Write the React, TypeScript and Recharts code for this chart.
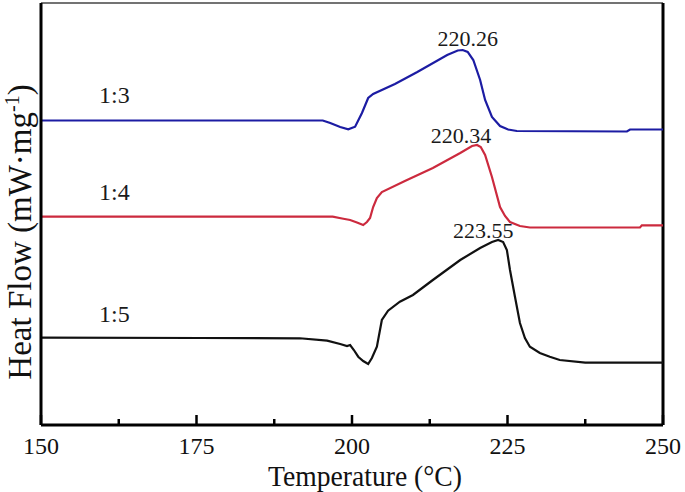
import React from 'react';
import { LineChart, Line, XAxis, YAxis, ReferenceLine, ReferenceDot } from 'recharts';

const SERIF = '"Liberation Serif", "Times New Roman", serif';

// Temperature (°C) and relative heat flow (arbitrary units, curves offset vertically)
const tempRatio13 = [150, 195.3, 196.5, 198.1, 199.4, 200.5, 201.6, 202.6, 203.4, 206.9, 210.5, 215.3, 217.0, 217.8, 218.6, 219.5, 220.6, 221.4, 222.5, 223.8, 225.1, 226.5, 244.2, 244.7, 250];
const flowRatio13 = [72.16, 72.16, 71.56, 70.62, 70.07, 70.69, 73.93, 77.49, 78.44, 80.81, 83.65, 87.68, 88.74, 88.86, 88.39, 86.49, 81.75, 77.01, 72.99, 70.85, 70.02, 69.67, 69.55, 70.02, 70.02];

const tempRatio14 = [150, 196.9, 198.4, 199.7, 200.8, 201.8, 202.4, 202.9, 203.4, 204.0, 204.8, 208.5, 213.0, 217.4, 219.3, 220.1, 220.7, 221.4, 222.5, 223.8, 224.6, 225.4, 227.0, 228.6, 246.3, 246.6, 250];
const flowRatio14 = [49.36, 49.36, 48.93, 48.58, 47.99, 47.39, 48.10, 49.05, 51.66, 53.79, 55.21, 57.82, 60.90, 64.45, 66.11, 66.35, 65.88, 63.98, 58.77, 51.66, 49.53, 48.10, 47.16, 46.80, 46.80, 47.32, 47.32];

const tempRatio15 = [150, 175.6, 191.6, 196.0, 198.1, 199.2, 199.7, 200.3, 201.0, 201.8, 202.6, 203.2, 204.0, 204.8, 205.8, 207.7, 209.8, 213.0, 217.4, 220.6, 222.5, 223.5, 224.3, 224.9, 225.4, 226.2, 227.0, 227.8, 228.6, 230.2, 231.8, 233.4, 237.5, 250];
const flowRatio15 = [20.69, 20.62, 20.55, 19.98, 19.19, 18.72, 18.96, 17.77, 16.18, 15.17, 14.45, 15.88, 18.55, 24.88, 27.09, 29.22, 30.81, 34.36, 39.10, 41.94, 43.36, 43.84, 43.36, 41.47, 36.73, 30.40, 24.17, 20.62, 18.55, 17.06, 16.18, 15.40, 14.76, 14.76];

const xTicks = [150, 162.5, 175, 187.5, 200, 212.5, 225, 237.5, 250];
const peakLabels = ['220.26', '220.34', '223.55'];
const seriesLabels = ['1:3', '1:4', '1:5'];
const seriesColors = ['#1c1ca3', '#cc2a3e', '#111111'];

const toRows = (t: number[], f: number[]) => t.map((x, i) => ({ t: x, f: f[i] }));
const data13 = toRows(tempRatio13, flowRatio13);
const data14 = toRows(tempRatio14, flowRatio14);
const data15 = toRows(tempRatio15, flowRatio15);
const allData = [data13, data14, data15];

const peakOf = (rows: { t: number; f: number }[]) =>
  rows.reduce((a, b) => (b.f > a.f ? b : a), rows[0]);

const peakOffsets = [
  { dx: 5, dy: -4 },
  { dx: -16, dy: -2 },
  { dx: -15, dy: -2 },
];
const nameOffsets = [-17.5, -16.7, -15.6];

const XTick = (props: any) => {
  const { x, y, payload } = props;
  const major = payload.value % 25 === 0;
  return (
    <g>
      <line x1={x} x2={x} y1={y} y2={y - (major ? 10 : 6)} stroke="#000" strokeWidth={2.5} />
      {major && (
        <text x={x} y={y + 29} textAnchor="middle" fontSize={24} fontFamily={SERIF} fill="#111">
          {payload.value}
        </text>
      )}
    </g>
  );
};

const XTitle = () => (
  <text x={365} y={486} textAnchor="middle" fontSize={30} fontFamily={SERIF} fill="#111"
    textLength={194} lengthAdjust="spacingAndGlyphs">
    Temperature (°C)
  </text>
);

const YTitle = () => (
  <text transform="translate(31,232) rotate(-90)" textAnchor="middle" fontSize={33} fontFamily={SERIF} fill="#111">
    Heat Flow (mW·mg<tspan dy={-12} fontSize={20}>-1</tspan><tspan dy={12}>)</tspan>
  </text>
);

const textAt = (value: string, dx: number, dy: number, size: number) => (p: any) => {
  const vb = p.viewBox || {};
  return (
    <text x={(vb.x ?? 0) + (vb.width ?? 0) / 2 + dx} y={(vb.y ?? 0) + (vb.height ?? 0) / 2 + dy}
      textAnchor="middle" fontSize={size} fontFamily={SERIF} fill="#1a1a1a">
      {value}
    </text>
  );
};

export default function App() {
  return (
    <div style={{ position: 'absolute', left: 0, top: 0, width: 685, height: 492, background: '#fff' }}>
      <LineChart width={685} height={492} margin={{ top: 3, right: 22, left: 0, bottom: 0 }}>
        <XAxis type="number" dataKey="t" domain={[150, 250]} ticks={xTicks} interval={0}
          allowDataOverflow height={67} tickSize={0} tickMargin={0} tickLine={false}
          axisLine={{ stroke: '#000', strokeWidth: 3 }} tick={<XTick />} label={{ content: XTitle }} />
        <YAxis type="number" domain={[0, 100]} width={41} tick={false} tickLine={false}
          axisLine={{ stroke: '#000', strokeWidth: 3 }} label={{ content: YTitle }} />
        <ReferenceLine y={100} stroke="#444" strokeWidth={1.5} />
        <ReferenceLine x={250} stroke="#000" strokeWidth={3} />
        {allData.map((rows, i) => (
          <Line key={seriesLabels[i]} data={rows} dataKey="f" type="linear" stroke={seriesColors[i]}
            strokeWidth={2.2} dot={false} activeDot={false} isAnimationActive={false} />
        ))}
        {allData.map((rows, i) => {
          const pk = peakOf(rows);
          return (
            <ReferenceDot key={'pk' + i} x={pk.t} y={pk.f} r={0} fill="none" stroke="none"
              label={{ content: textAt(peakLabels[i], peakOffsets[i].dx, peakOffsets[i].dy, 22) }} />
          );
        })}
        {allData.map((rows, i) => (
          <ReferenceDot key={'nm' + i} x={161.8} y={rows[0].f} r={0} fill="none" stroke="none"
            label={{ content: textAt(seriesLabels[i], 0, nameOffsets[i], 24) }} />
        ))}
      </LineChart>
    </div>
  );
}
